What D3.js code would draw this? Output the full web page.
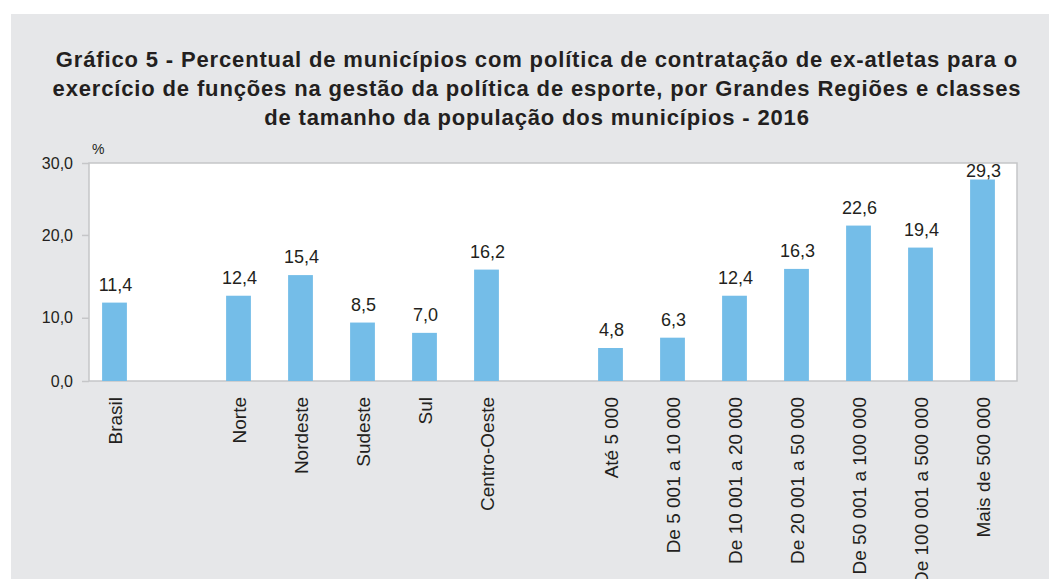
<!DOCTYPE html>
<html>
<head>
<meta charset="utf-8">
<script src="https://cdn.jsdelivr.net/npm/d3@7"></script>
<style>
  html, body { margin: 0; padding: 0; background: #fff; }
  svg { display: block; font-family: "Liberation Sans", Arial, Helvetica, sans-serif; }
</style>
</head>
<body>
<div id="chart"></div>
<script>
// data (IBGE, 2016)
const titleLines = [
  "Gráfico 5 - Percentual de municípios com política de contratação de ex-atletas para o",
  "exercício de funções na gestão da política de esporte, por Grandes Regiões e classes",
  "de tamanho da população dos municípios - 2016"
];
const brasil = ["Brasil"];
const brasilValues = [11.4];
const regions = ["Norte", "Nordeste", "Sudeste", "Sul", "Centro-Oeste"];
const regionValues = [12.4, 15.4, 8.5, 7.0, 16.2];
const sizeClasses = ["Até 5 000", "De 5 001 a 10 000", "De 10 001 a 20 000", "De 20 001 a 50 000",
  "De 50 001 a 100 000", "De 100 001 a 500 000", "Mais de 500 000"];
const sizeValues = [4.8, 6.3, 12.4, 16.3, 22.6, 19.4, 29.3];
const yTicks = [0, 10, 20, 30];
const yUnit = "%";

const width = 1049, height = 579;
const plot = {left: 89, right: 1017, top: 163, bottom: 381};
const barColor = "#74bde8", textColor = "#231f20", frameColor = "#c5c6c8";

const fmt = d3.formatLocale({decimal: ",", thousands: ".", grouping: [3], currency: ["", ""]}).format(".1f");

// one empty slot between groups
const slots = [...brasil, "__gap1", ...regions, "__gap2", ...sizeClasses];
const bars = [
  ...brasil.map((c, i) => ({cat: c, value: brasilValues[i]})),
  ...regions.map((c, i) => ({cat: c, value: regionValues[i]})),
  ...sizeClasses.map((c, i) => ({cat: c, value: sizeValues[i]}))
];

const svg = d3.select("#chart").append("svg")
    .attr("width", width)
    .attr("height", height);

svg.append("rect")
    .attr("x", 11).attr("y", 14)
    .attr("width", width - 11).attr("height", height - 14)
    .attr("fill", "#e6e7e9");

svg.append("g")
  .selectAll("text")
  .data(titleLines)
  .join("text")
    .attr("x", 537)
    .attr("y", (d, i) => 67 + i * 29)
    .attr("text-anchor", "middle")
    .attr("font-size", 22)
    .attr("font-weight", "bold")
    .attr("letter-spacing", 0.85)
    .attr("fill", textColor)
    .text(d => d);

const x = d3.scaleBand()
    .domain(slots)
    .range([plot.left - 5.5, plot.right - 3.5])
    .paddingInner(0.6)
    .paddingOuter(0.3);

// bars use a plain linear scale
const y = d3.scaleLinear()
    .domain([0, 31.7])
    .range([plot.bottom, plot.top]);

// the printed tick marks sit at uneven heights in the source
const yAxisScale = d3.scaleLinear()
    .domain(yTicks)
    .range([0, 0.29, 0.67, 1].map(f => plot.bottom - f * (plot.bottom - plot.top)));

svg.append("rect")
    .attr("x", plot.left).attr("y", plot.top)
    .attr("width", plot.right - plot.left)
    .attr("height", plot.bottom - plot.top)
    .attr("fill", "#fff")
    .attr("stroke", frameColor)
    .attr("stroke-width", 1.5);

const yAxis = svg.append("g")
    .attr("transform", `translate(${plot.left},0)`)
    .call(d3.axisLeft(yAxisScale).tickValues(yTicks).tickFormat(fmt).tickSize(7).tickPadding(9));
yAxis.select(".domain").remove();
yAxis.selectAll("line").attr("stroke", frameColor).attr("stroke-width", 1.5);
yAxis.selectAll("text")
    .attr("font-size", 16)
    .attr("fill", textColor)
    .style("font-family", "Liberation Sans, Arial, sans-serif");

svg.append("text")
    .attr("x", 92).attr("y", 154)
    .attr("font-size", 14)
    .attr("fill", textColor)
    .text(yUnit);

svg.append("g")
  .selectAll("rect")
  .data(bars)
  .join("rect")
    .attr("x", d => x(d.cat))
    .attr("y", d => y(d.value))
    .attr("width", x.bandwidth())
    .attr("height", d => y(0) - y(d.value))
    .attr("fill", barColor);

svg.append("g")
  .selectAll("text")
  .data(bars)
  .join("text")
    .attr("x", d => x(d.cat) + x.bandwidth() / 2 + 1)
    .attr("y", d => Math.max(y(d.value) - 12, plot.top + 14))
    .attr("text-anchor", "middle")
    .attr("font-size", 18)
    .attr("fill", textColor)
    .text(d => fmt(d.value));

const xAxis = svg.append("g")
    .attr("transform", `translate(0,${plot.bottom})`)
    .call(d3.axisBottom(x).tickValues(bars.map(d => d.cat)).tickSize(0));
xAxis.select(".domain").remove();
xAxis.selectAll("text")
    .attr("font-size", 19)
    .attr("fill", textColor)
    .style("font-family", "Liberation Sans, Arial, sans-serif")
    .attr("text-anchor", "end")
    .attr("transform", "rotate(-90)")
    .attr("x", -16)
    .attr("y", 0)
    .attr("dy", "0.42em");
</script>
</body>
</html>
